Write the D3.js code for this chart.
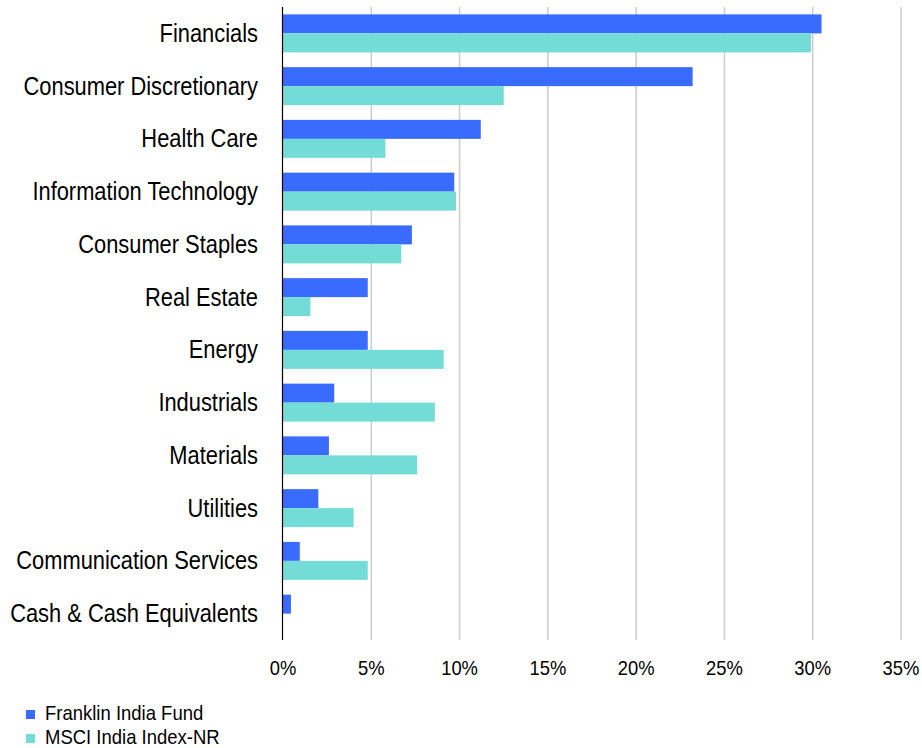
<!DOCTYPE html>
<html>
<head>
<meta charset="utf-8">
<script src="https://cdn.jsdelivr.net/npm/d3@7"></script>
<style>
  html, body { margin: 0; padding: 0; background: #fff; }
  svg { display: block; font-family: "Liberation Sans", Arial, sans-serif; }
</style>
</head>
<body>
<svg id="chart" width="922" height="748"></svg>
<script>
// Sector weights (%)
const sectors = [
  "Financials", "Consumer Discretionary", "Health Care", "Information Technology",
  "Consumer Staples", "Real Estate", "Energy", "Industrials", "Materials",
  "Utilities", "Communication Services", "Cash & Cash Equivalents"
];
const seriesNames = ["Franklin India Fund", "MSCI India Index-NR"];
const fundWeights  = [30.5, 23.2, 11.2, 9.7, 7.3, 4.8, 4.8, 2.9, 2.6, 2.0, 0.95, 0.45];
const indexWeights = [29.9, 12.5, 5.8, 9.8, 6.7, 1.55, 9.1, 8.6, 7.6, 4.0, 4.8, 0];
const tickValues = [0, 5, 10, 15, 20, 25, 30, 35];
const colors = ["#3a6bff", "#74dcd6"];

const svg = d3.select("#chart");

const x = d3.scaleLinear().domain([0, 35]).range([283, 901]);
const y = d3.scaleBand().domain(sectors).range([7, 640]).paddingInner(0.28).paddingOuter(0.14);
const ySub = d3.scaleBand().domain(seriesNames).range([0, y.bandwidth()]);

// narrow text helper: horizontally condensed glyphs
function narrowText(g, px, py, txt, size, sx, anchor) {
  return g.append("text")
    .attr("transform", `translate(${px},${py}) scale(${sx},1)`)
    .attr("text-anchor", anchor)
    .attr("dominant-baseline", "central")
    .attr("font-size", size)
    .attr("fill", "#000")
    .text(txt);
}

// vertical gridlines
svg.append("g")
  .selectAll("line")
  .data(tickValues.filter(d => d > 0))
  .join("line")
  .attr("x1", d => x(d)).attr("x2", d => x(d))
  .attr("y1", 7).attr("y2", 640)
  .attr("stroke", "#cccccc").attr("stroke-width", 1.5);

// bars
const rows = sectors.map((s, i) => ({ sector: s, values: [fundWeights[i], indexWeights[i]] }));
const groups = svg.append("g").selectAll("g")
  .data(rows).join("g")
  .attr("transform", d => `translate(0,${y(d.sector)})`);
groups.selectAll("rect")
  .data(d => d.values.map((v, k) => ({ name: seriesNames[k], value: v, k })))
  .join("rect")
  .attr("x", x(0))
  .attr("y", d => ySub(d.name))
  .attr("width", d => x(d.value) - x(0))
  .attr("height", ySub.bandwidth())
  .attr("fill", d => colors[d.k]);

// axis line
svg.append("line")
  .attr("x1", x(0) - 0.5).attr("x2", x(0) - 0.5)
  .attr("y1", 7).attr("y2", 640)
  .attr("stroke", "#000").attr("stroke-width", 1.2);

// category labels
const catG = svg.append("g");
sectors.forEach(s => narrowText(catG, 258, y(s) + y.bandwidth() / 2, s, 25, 0.875, "end"));

// x tick labels
const tickG = svg.append("g");
tickValues.forEach(t => narrowText(tickG, x(t), 668, t + "%", 20, 0.92, "middle"));

// legend
const leg = svg.append("g");
seriesNames.forEach((n, i) => {
  const cy = 713 + i * 24;
  leg.append("rect")
    .attr("x", 26).attr("y", cy - 3)
    .attr("width", 9).attr("height", 9)
    .attr("fill", colors[i]);
  narrowText(leg, 45, cy, n, 20, 0.925, "start");
});
</script>
</body>
</html>
